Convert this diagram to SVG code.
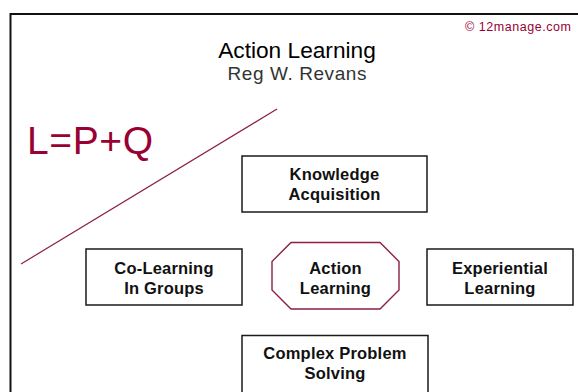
<svg xmlns="http://www.w3.org/2000/svg" width="578" height="392" viewBox="0 0 578 392">
  <style>
    .frame { fill: none; stroke: #111; stroke-width: 2; }
    .box { fill: #fff; stroke: #1a1a1a; stroke-width: 1.5; }
    .oct { fill: #fff; stroke: #8c1f42; stroke-width: 1.4; }
    .lbl { font-family: "Liberation Sans", Arial, sans-serif; font-weight: bold; font-size: 16.5px; fill: #111; text-anchor: middle; letter-spacing: 0.2px; }
    .maroon { fill: #990033; }
  </style>
  <rect width="578" height="392" fill="#fff"/>

  <!-- page frame (open to the right and bottom) -->
  <polyline class="frame" points="10.5,392 10.5,14 578,14"/>

  <!-- header -->
  <text x="571" y="31" font-family="Liberation Sans, Arial, sans-serif" font-size="12.5" text-anchor="end" class="maroon" textLength="106">© 12manage.com</text>
  <text x="297" y="58" font-family="Liberation Sans, Arial, sans-serif" font-size="22.7" text-anchor="middle" fill="#000">Action Learning</text>
  <text x="297" y="80" font-family="Liberation Sans, Arial, sans-serif" font-size="19" text-anchor="middle" fill="#333" textLength="139">Reg W. Revans</text>

  <!-- formula and divider -->
  <text x="27" y="154" font-family="Liberation Sans, Arial, sans-serif" font-size="39" class="maroon" textLength="126">L=P+Q</text>
  <g id="divider">
    <line x1="21" y1="264" x2="277" y2="109" stroke="#8c1f42" stroke-width="1.2"/>
  </g>

  <g id="knowledge">
    <rect class="box" x="242" y="156" width="185" height="56"/>
    <text class="lbl" x="334.5" y="179.5">Knowledge</text>
    <text class="lbl" x="334.5" y="199.5">Acquisition</text>
  </g>

  <g id="colearning">
    <rect class="box" x="86" y="249" width="156" height="56"/>
    <text class="lbl" x="164" y="273.5">Co-Learning</text>
    <text class="lbl" x="164" y="293.5">In Groups</text>
  </g>

  <g id="action">
    <polygon class="oct" points="291,242.5 380,242.5 399,261.5 399,290 380,309 291,309 272,290 272,261.5"/>
    <text class="lbl" x="335.5" y="273.5">Action</text>
    <text class="lbl" x="335.5" y="293.5">Learning</text>
  </g>

  <g id="experiential">
    <rect class="box" x="427" y="249" width="146" height="56"/>
    <text class="lbl" x="500" y="273.5">Experiential</text>
    <text class="lbl" x="500" y="293.5">Learning</text>
  </g>

  <g id="complex">
    <rect class="box" x="242" y="335.5" width="186" height="70"/>
    <text class="lbl" x="335" y="358.5">Complex Problem</text>
    <text class="lbl" x="335" y="378.5">Solving</text>
  </g>

  <g id="connectors"/>
</svg>
